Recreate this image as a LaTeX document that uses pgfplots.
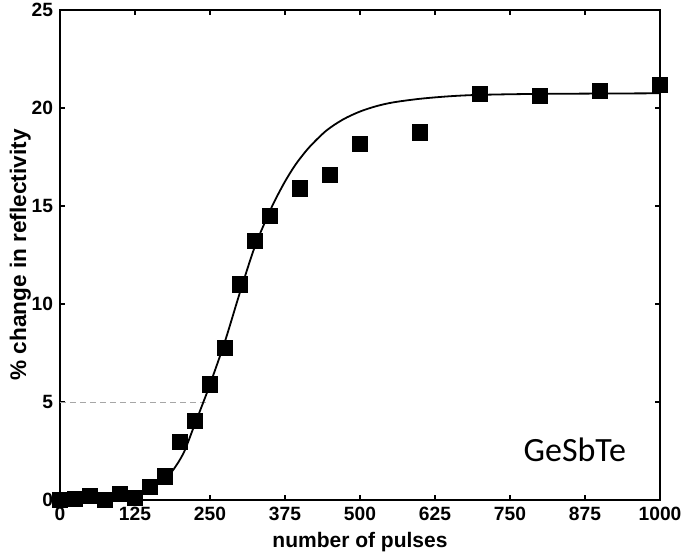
\documentclass[border=0pt]{standalone}
\usepackage{fontspec}
\setmainfont{Liberation Sans}
\newfontfamily\carlito{Carlito}
\usepackage{pgfplots}
\pgfplotsset{compat=1.18}
\usetikzlibrary{calc}
\begin{document}
\begin{tikzpicture}
\begin{axis}[
    scale only axis,
    width=300pt, height=245pt,
    xmin=0, xmax=1000, ymin=0, ymax=25,
    xtick={0,125,...,1000}, ytick={0,5,...,25},
    scaled ticks=false,
    /pgf/number format/1000 sep={},
    /pgf/number format/assume math mode=true,
    tick align=inside, tick pos=both,
    major tick length=2.5pt,
    every tick/.style={black, line width=0.6pt},
    axis line style={line width=1pt},
    tick label style={font=\bfseries\fontsize{9.6}{11}\selectfont},
    xlabel={number of pulses},
    ylabel={\% change in reflectivity},
    xlabel style={font=\bfseries\fontsize{10.5}{12}\selectfont,
        at={(axis description cs:0.5,-0.086)}, anchor=center},
    ylabel style={font=\bfseries\fontsize{11.3}{13}\selectfont,
        at={(axis description cs:-0.066,0.5)}, anchor=center},
    clip=false,
]
% 5 % guide line
\addplot[gray!70, densely dashed, line width=0.4pt] coordinates {(0,5) (247,5)};
% fitted curve
\addplot[black, line width=0.9pt, smooth] coordinates {
    (0,0.0) (50,0.05) (100,0.15) (125,0.3) (150,0.62) (175,1.1) (189,1.55)
    (206,2.4) (222,3.65) (239,5.0) (250,5.9) (275,8.1) (300,10.6)
    (325,12.95) (350,14.75) (361,15.45) (375,16.25) (389,16.95) (400,17.42)
    (417,18.05) (444,18.85) (472,19.42) (500,19.82) (528,20.1) (556,20.29)
    (600,20.47) (650,20.6) (700,20.67) (800,20.72) (1000,20.75)
};
% measured points
\addplot[only marks, mark=square*, mark size=3.8pt, black] coordinates {
    (0,0.0) (25,0.05) (50,0.2) (75,0.0) (100,0.3) (125,0.1) (150,0.65)
    (175,1.2) (200,2.95) (225,4.05) (250,5.9) (275,7.75) (300,11.0)
    (325,13.2) (350,14.5) (400,15.9) (450,16.6) (500,18.15) (600,18.76)
    (700,20.7) (800,20.63) (900,20.88) (1000,21.17)
};
\node[font=\carlito\fontsize{17}{19}\selectfont, anchor=base] at (axis cs:858,1.94) {GeSbTe};
\coordinate (ll) at (rel axis cs:0,0);
\coordinate (ur) at (rel axis cs:1,1);
\end{axis}
\pgfresetboundingbox
\path[use as bounding box] ($(ll)+(-30pt,-28pt)$) rectangle ($(ur)+(14.5pt,5pt)$);
\end{tikzpicture}
\end{document}
